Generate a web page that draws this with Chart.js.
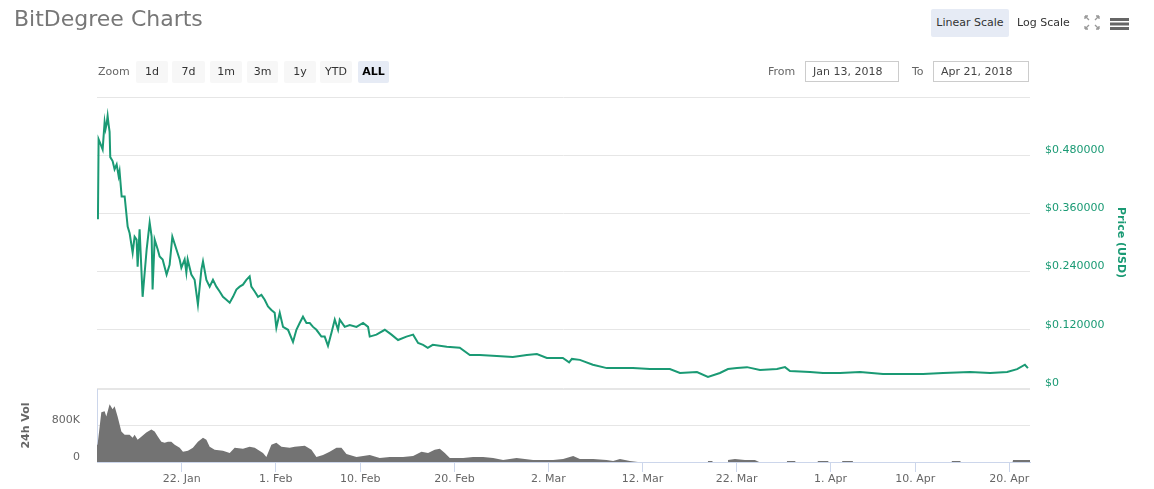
<!DOCTYPE html>
<html><head><meta charset="utf-8">
<script src="https://cdn.jsdelivr.net/npm/chart.js@4/dist/chart.umd.min.js"></script>
<style>
html,body{margin:0;padding:0;background:#fff;}
#wrap{position:relative;width:1154px;height:489px;overflow:hidden;font-family:'DejaVu Sans',sans-serif;}
canvas{position:absolute;left:0;top:0;}
.t{position:absolute;white-space:nowrap;}
.btn{position:absolute;top:61px;height:22px;line-height:22px;text-align:center;font-size:11px;color:#333;background:#f7f7f7;border-radius:2px;}
.inp{position:absolute;top:61px;height:19px;line-height:19px;border:1px solid #ccc;font-size:11px;color:#444;padding-left:7px;box-sizing:content-box;}
</style></head>
<body><div id="wrap">
<canvas id="price" width="1154" height="489"></canvas>
<canvas id="vol" width="1154" height="489"></canvas>
<div class="t" style="left:14px;top:4px;font-family:'DejaVu Sans';font-size:22px;color:#777;line-height:30px;">BitDegree Charts</div>
<div class="t" style="left:931px;top:9px;width:78px;height:28px;line-height:28px;background:#e6ebf5;text-align:center;font-size:11px;color:#333;border-radius:2px;">Linear Scale</div>
<div class="t" style="left:1017px;top:9px;height:28px;line-height:28px;font-size:11px;color:#333;">Log Scale</div>
<svg class="t" style="left:1084px;top:15px" width="16" height="15" viewBox="0 0 16 15">
<g stroke="#999" stroke-width="1.3" fill="none">
<path d="M1 1 L5 5 M1 1 h3 M1 1 v3"/><path d="M15 1 L11 5 M15 1 h-3 M15 1 v3"/>
<path d="M1 14 L5 10 M1 14 h3 M1 14 v-3"/><path d="M15 14 L11 10 M15 14 h-3 M15 14 v-3"/></g></svg>
<svg class="t" style="left:1110px;top:17px" width="19" height="13"><g fill="#666"><rect x="0" y="1" width="19" height="3"/><rect x="0" y="5.5" width="19" height="3"/><rect x="0" y="10" width="19" height="3"/></g></svg>
<div class="t" style="left:98px;top:61px;line-height:22px;font-size:11px;color:#666;">Zoom</div>
<div class="btn" style="left:136px;width:32px;">1d</div>
<div class="btn" style="left:172px;width:33px;">7d</div>
<div class="btn" style="left:210px;width:32px;">1m</div>
<div class="btn" style="left:247px;width:31px;">3m</div>
<div class="btn" style="left:284px;width:32px;">1y</div>
<div class="btn" style="left:320px;width:32px;">YTD</div>
<div class="btn" style="left:358px;width:31px;background:#e6ebf5;color:#000;font-weight:bold;">ALL</div>
<div class="t" style="left:768px;top:61px;line-height:22px;font-size:11px;color:#666;">From</div>
<div class="inp" style="left:805px;width:85px;">Jan 13, 2018</div>
<div class="t" style="left:912px;top:61px;line-height:22px;font-size:11px;color:#666;">To</div>
<div class="inp" style="left:933px;width:87px;">Apr 21, 2018</div>
</div>
<script>
// days since Jan 13, 2018 00:00
const priceDays = [0.10,0.17,0.38,0.60,0.81,0.91,1.02,1.13,1.23,1.34,
1.41,1.66,1.87,2.09,2.30,2.40,2.62,2.94,3.26,3.47,
3.79,4.00,4.21,4.32,4.53,4.85,5.28,5.60,5.81,5.91,
6.13,6.45,6.66,6.98,7.40,7.72,8.01,8.44,8.79,8.97,
9.32,9.50,9.64,10.03,10.38,10.73,11.10,11.27,11.63,11.98,
12.33,12.69,13.04,13.39,13.76,14.11,14.46,14.82,15.17,15.52,
15.88,16.23,16.41,16.77,17.12,17.48,17.83,18.18,18.54,18.89,
19.07,19.43,19.78,20.31,20.84,21.20,21.55,21.90,22.27,22.62,
22.97,23.33,23.86,24.21,24.56,24.93,25.28,25.63,25.81,26.34,
26.87,27.59,28.29,28.82,29.00,29.71,30.60,31.31,32.01,32.90,
33.61,34.14,34.67,35.17,35.70,37.19,38.57,39.64,40.70,42.51,
44.21,45.70,46.77,47.83,49.53,50.20,50.49,51.34,52.72,54.21,55.60,
56.98,58.79,60.91,61.98,63.79,64.96,66.23,67.09,68.04,69.11,
70.49,72.30,73.15,73.68,75.81,77.19,79.00,81.13,83.57,85.70,
87.83,89.96,92.83,94.96,96.77,97.83,98.66,98.98];
const priceValues = [0.348,0.513,0.503,0.492,0.548,0.534,0.544,0.561,0.544,0.528,
0.476,0.468,0.451,0.461,0.437,0.447,0.395,0.395,0.333,0.319,
0.279,0.312,0.306,0.250,0.327,0.188,0.286,0.341,0.312,0.203,
0.306,0.286,0.271,0.265,0.234,0.254,0.312,0.286,0.265,0.248,
0.265,0.238,0.265,0.234,0.223,0.172,0.244,0.261,0.223,0.209,
0.223,0.209,0.199,0.188,0.182,0.176,0.188,0.203,0.209,0.213,
0.223,0.230,0.209,0.199,0.188,0.192,0.182,0.168,0.161,0.155,
0.124,0.155,0.126,0.120,0.095,0.120,0.134,0.147,0.134,0.134,
0.126,0.120,0.106,0.106,0.087,0.114,0.141,0.120,0.141,0.126,
0.130,0.126,0.134,0.126,0.106,0.110,0.120,0.110,0.099,0.106,
0.110,0.093,0.089,0.083,0.089,0.085,0.083,0.068,0.068,0.066,
0.064,0.068,0.070,0.062,0.062,0.053,0.060,0.058,0.048,0.041,0.041,
0.041,0.039,0.039,0.031,0.033,0.023,0.031,0.039,0.041,0.043,
0.037,0.039,0.043,0.035,0.033,0.031,0.031,0.033,0.029,0.029,
0.029,0.031,0.033,0.031,0.033,0.039,0.048,0.041];
const volumeDays = [0,0.06,0.46,0.81,0.99,1.34,1.66,1.87,2.19,2.59,
2.94,3.47,3.79,4.00,4.32,4.71,5.24,5.78,6.13,6.48,
6.84,7.19,7.54,7.90,8.26,8.79,9.14,9.67,10.20,10.73,
11.27,11.63,11.98,12.51,13.39,14.11,14.64,15.52,16.23,16.77,
17.65,18.01,18.54,19.07,19.61,20.49,21.02,22.09,22.80,23.33,
24.03,24.74,25.46,25.99,26.52,27.59,29.00,30.06,31.13,32.54,
33.61,34.50,35.20,35.91,36.45,36.98,37.51,38.93,39.99,41.05,
42.12,43.18,44.61,46.37,48.50,49.56,50.63,51.34,52.76,54.18,
54.88,55.60,56.66,57.51,
64.9,64.96,65.38,65.5,
67.0,67.09,67.83,68.89,69.95,70.4,
73.3,73.36,74.2,74.3,
76.6,76.66,77.72,77.8,
79.2,79.27,80.34,80.4,
90.85,90.92,91.77,91.85,
97.35,97.4,99.0,99.2];
const volumeThousands = [380,378,1089,1111,1000,1267,1156,1222,1000,667,
600,600,533,600,489,556,644,711,667,556,
444,422,444,444,378,311,222,244,311,444,
533,489,333,267,244,200,311,289,333,311,
200,111,378,422,333,311,333,356,267,111,
156,222,311,311,178,111,156,89,111,111,
133,222,200,267,289,200,89,89,111,111,
89,44,89,44,44,67,133,67,67,44,
22,67,22,0,
0,22,22,0,
0,44,67,44,44,0,
0,22,22,0,
0,22,22,0,
0,22,22,0,
0,22,22,0,
0,44,44,44];
const xTickDays = [9,19,28,38,48,58,68,78,87,97];
const xTickLabels = ['22. Jan','1. Feb','10. Feb','20. Feb','2. Mar','12. Mar','22. Mar','1. Apr','10. Apr','20. Apr'];
const priceTickValues = [0,0.12,0.24,0.36,0.48,0.6];
const priceTickLabels = ['$0','$0.120000','$0.240000','$0.360000','$0.480000',''];
const volumeTickValues = [0,800000,1600000];
const volumeTickLabels = ['0','800K',''];

Chart.defaults.font.family = "'DejaVu Sans', sans-serif";
Chart.defaults.font.size = 11;
const GREEN = '#1a9a74';
const X_MAX = 99.2;

new Chart(document.getElementById('price'), {
  type: 'line',
  data: { datasets: [{
    data: priceDays.map((d, i) => ({ x: d, y: priceValues[i] })),
    borderColor: GREEN, borderWidth: 2, pointRadius: 0, tension: 0, fill: false
  }]},
  options: {
    responsive: false, animation: false, events: [],
    layout: { padding: { left: 97, right: 23, top: 97, bottom: 101 } },
    plugins: { legend: { display: false }, tooltip: { enabled: false } },
    scales: {
      x: { type: 'linear', min: 0, max: X_MAX, display: false },
      y: {
        type: 'linear', position: 'right', min: 0, max: 0.6,
        afterBuildTicks: s => { s.ticks = priceTickValues.map(v => ({ value: v })); },
        afterFit: s => { s.width = 101; },
        grid: { color: '#e6e6e6', drawTicks: false },
        border: { display: false },
        ticks: { padding: 15, labelOffset: -5, color: GREEN, callback: (v, i) => priceTickLabels[i] },
        title: { display: true, text: 'Price (USD)', color: GREEN, font: { size: 11, weight: 'bold' } }
      }
    }
  }
});

new Chart(document.getElementById('vol'), {
  type: 'line',
  data: { datasets: [{
    data: volumeDays.map((d, i) => ({ x: d, y: volumeThousands[i] * 1000 })),
    borderColor: 'rgba(0,0,0,0)', borderWidth: 1, backgroundColor: '#737373',
    pointRadius: 0, tension: 0, fill: 'origin'
  }]},
  options: {
    responsive: false, animation: false, events: [],
    layout: { padding: { left: 16, right: 124, top: 389, bottom: 0 } },
    plugins: { legend: { display: false }, tooltip: { enabled: false } },
    scales: {
      x: {
        type: 'linear', min: 0, max: X_MAX,
        afterBuildTicks: s => { s.ticks = xTickDays.map(v => ({ value: v })); },
        afterFit: s => { s.height = 27; },
        grid: { drawOnChartArea: false, drawTicks: true, tickLength: 10, color: '#ccd6eb' },
        border: { display: true, color: '#ccd6eb' },
        ticks: { autoSkip: false, maxRotation: 0, padding: 1, color: '#666', callback: (v, i) => xTickLabels[i] }
      },
      y: {
        type: 'linear', position: 'left', min: 0, max: 1600000,
        afterBuildTicks: s => { s.ticks = volumeTickValues.map(v => ({ value: v })); },
        afterFit: s => { s.width = 81; },
        grid: { color: '#e6e6e6', drawTicks: false },
        border: { display: true, color: '#ccd6eb' },
        ticks: { padding: 17, labelOffset: -5, color: '#666', callback: (v, i) => volumeTickLabels[i] },
        title: { display: true, text: '24h Vol', color: '#666', font: { size: 11, weight: 'bold' } }
      }
    }
  }
});
</script>
</body></html>
